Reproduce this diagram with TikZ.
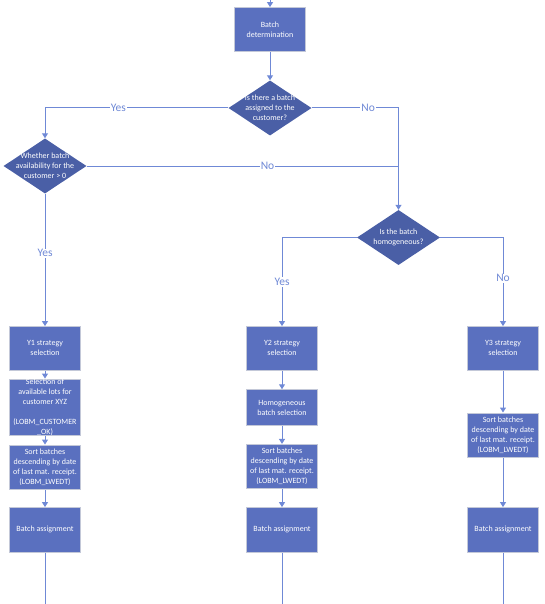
\documentclass[tikz,border=0pt]{standalone}
\usepackage{fontspec}
\setmainfont{Carlito}
\usetikzlibrary{arrows.meta,shapes.geometric}
\definecolor{boxfill}{HTML}{5A70BF}
\definecolor{boxline}{HTML}{C3C8D8}
\definecolor{decfill}{HTML}{4A5FA6}
\definecolor{conn}{HTML}{6F89D6}
\tikzset{
  procbox/.style={rectangle, draw=boxline, line width=1pt, fill=boxfill, text=white,
    minimum width=70.8pt, inner sep=0pt, align=center, font=\fontsize{8}{10}\selectfont},
  decshape/.style={diamond, fill=decfill, inner sep=0pt, minimum width=83pt, minimum height=55pt},
  dectext/.style={text=white, align=center, inner sep=0pt, font=\fontsize{8}{10}\selectfont},
  conline/.style={draw=conn, line width=1pt},
  arr/.style={conline, -{Triangle[width=6pt,length=5pt]}},
  lbl/.style={fill=white, text=conn, inner sep=1pt, font=\fontsize{11.5}{12}\selectfont}
}
\begin{document}
\begin{tikzpicture}[x=1pt,y=-1pt]
\useasboundingbox (0,0) rectangle (544,604);
% boxes
\node[procbox, minimum height=44.4pt] (bd) at (270,29.8) {Batch\\determination};
\node[decshape] (d1) at (270,108) {};
\node[dectext] (d1t) at (d1.center) {Is there a batch\\assigned to the\\customer?};
\node[decshape] (d2) at (45,166) {};
\node[dectext] (d2t) at (d2.center) {Whether batch\\availability for the\\customer > 0};
\node[decshape] (d3) at (398.5,237.5) {};
\node[dectext] (d3t) at (d3.center) {Is the batch\\homogeneous?};

\node[procbox, minimum height=43.4pt] (y1) at (45,348.3) {Y1 strategy\\selection};
\node[procbox, minimum height=56pt] (sel) at (45,407.4) {Selection of\\available lots for\\customer XYZ\\[10pt](LOBM\_CUSTOMER\\\_OK)};
\node[procbox, minimum height=44.5pt] (s1) at (45,467.3) {Sort batches\\descending by date\\of last mat. receipt.\\(LOBM\_LWEDT)};
\node[procbox, minimum height=44.4pt] (ba1) at (45,529.8) {Batch assignment};

\node[procbox, minimum height=43.4pt] (y2) at (282,348.3) {Y2 strategy\\selection};
\node[procbox, minimum height=35.5pt] (hom) at (282,407.5) {Homogeneous\\batch selection};
\node[procbox, minimum height=44.4pt] (s2) at (282,466.6) {Sort batches\\descending by date\\of last mat. receipt.\\(LOBM\_LWEDT)};
\node[procbox, minimum height=44.4pt] (ba2) at (282,529.8) {Batch assignment};

\node[procbox, minimum height=43.4pt] (y3) at (503,348.3) {Y3 strategy\\selection};
\node[procbox, minimum height=44pt] (s3) at (503,435) {Sort batches\\descending by date\\of last mat. receipt.\\(LOBM\_LWEDT)};
\node[procbox, minimum height=44.4pt] (ba3) at (503,529.8) {Batch assignment};

% free ends
\coordinate (top) at (270,0);
\coordinate (join) at (398.5,108);
\coordinate (join2) at (398.5,166);
\coordinate (e1) at (45,604);
\coordinate (e2) at (282,604);
\coordinate (e3) at (503,604);

% connectors
\draw[arr] (top) -- (bd.north);
\draw[arr] (bd.south) -- (d1.north);
\draw[arr] (d1.west) -| node[lbl, pos=0.3] {Yes} (d2.north);
\draw[arr] (d1.east) -- node[lbl, pos=0.65] {No} (join) -- (d3.north);
\draw[conline] (d2.east) -- node[lbl, pos=0.58] {No} (join2);
\draw[arr] (d2.south) -- node[lbl, pos=0.45] {Yes} (y1.north);
\draw[arr] (d3.west) -| node[lbl, pos=0.75] {Yes} (y2.north);
\draw[arr] (d3.east) -| node[lbl, pos=0.73] {No} (y3.north);

\draw[arr] (y1) -- (sel);
\draw[arr] (sel) -- (s1);
\draw[arr] (s1) -- (ba1);
\draw[arr] (y2) -- (hom);
\draw[arr] (hom) -- (s2);
\draw[arr] (s2) -- (ba2);
\draw[arr] (y3) -- (s3);
\draw[arr] (s3) -- (ba3);
\draw[conline] (ba1) -- (e1);
\draw[conline] (ba2) -- (e2);
\draw[conline] (ba3) -- (e3);
\end{tikzpicture}
\end{document}
